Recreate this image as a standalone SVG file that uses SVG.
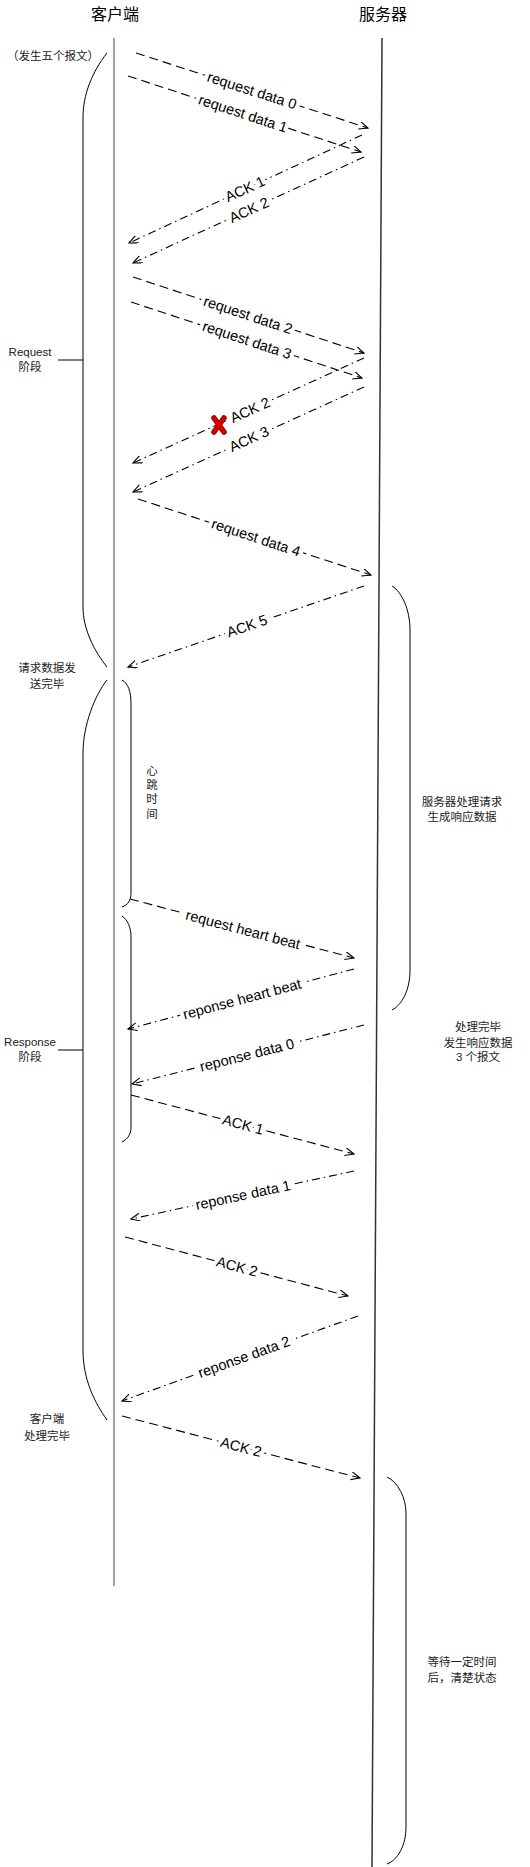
<svg xmlns="http://www.w3.org/2000/svg" width="530" height="1867" viewBox="0 0 530 1867">
<style>
.bg{fill:#fff}
.title{font-family:"Liberation Sans","Noto Sans CJK SC",sans-serif;font-size:16px;fill:#000;text-anchor:middle;dominant-baseline:central}
.note{font-family:"Liberation Sans","Noto Sans CJK SC",sans-serif;font-size:11.5px;fill:#222;text-anchor:middle;dominant-baseline:central}
.lbl{font-family:"Liberation Sans","Noto Sans CJK SC",sans-serif;font-size:14.5px;fill:#000;text-anchor:middle;dominant-baseline:central;stroke:#fff;stroke-width:8;stroke-linejoin:round;paint-order:stroke}
.brace{fill:none;stroke:#000;stroke-width:1}
.dash{fill:none;stroke:#000;stroke-width:1.1;stroke-dasharray:9,5;marker-end:url(#open)}
.dd{fill:none;stroke:#000;stroke-width:1.1;stroke-dasharray:8,4,1.5,4;marker-end:url(#open)}
</style>
<defs>
<marker id="open" markerUnits="userSpaceOnUse" markerWidth="12" markerHeight="12" refX="9" refY="4" orient="auto">
<path d="M0,0 L9,4 L0,8" fill="none" stroke="#000" stroke-width="1.1"/>
</marker>
</defs>
<rect class="bg" x="0" y="0" width="530" height="1867"/>

<g id="client">
<text class="title" x="115" y="14">客户端</text>
<line x1="114" y1="38" x2="114" y2="1586" stroke="#888" stroke-width="1.6"/>
</g>
<g id="server">
<text class="title" x="383" y="14">服务器</text>
<line x1="382" y1="38" x2="372" y2="1867" stroke="#333" stroke-width="1.5"/>
</g>

<g id="request-phase">
<text class="note" x="53" y="56">（发生五个报文）</text>
<path class="brace" d="M107,53 C92,72 83,95 83,117 L83,607 C83,630 95,652 107,667"/>
<line class="brace" x1="58" y1="360" x2="83" y2="360"/>
<text class="note" x="30" y="352">Request</text>
<text class="note" x="30" y="367">阶段</text>
<text class="note" x="47" y="668">请求数据发</text>
<text class="note" x="47" y="684">送完毕</text>
</g>

<g id="response-phase">
<path class="brace" d="M107,680 C95,695 83,725 83,753 L83,1350 C83,1380 95,1403 107,1420"/>
<line class="brace" x1="58" y1="1050" x2="83" y2="1050"/>
<text class="note" x="30" y="1042">Response</text>
<text class="note" x="30" y="1057">阶段</text>
<text class="note" x="47" y="1419">客户端</text>
<text class="note" x="47" y="1436">处理完毕</text>
</g>

<g id="heartbeat-time">
<path class="brace" d="M122,680 C128,683 131,692 131,703 L131,893 C131,900 128,905 122,907"/>
<path class="brace" d="M122,916 C128,920 131,928 131,937 L131,1127 C131,1134 128,1139 122,1142"/>
<text class="note" x="152" y="771">心</text>
<text class="note" x="152" y="785">跳</text>
<text class="note" x="152" y="799">时</text>
<text class="note" x="152" y="814">间</text>
</g>

<g id="server-processing">
<path class="brace" d="M392,586 C402,592 410,610 410,630 L410,970 C410,990 402,1005 392,1010"/>
<text class="note" x="462" y="802">服务器处理请求</text>
<text class="note" x="462" y="817">生成响应数据</text>
<text class="note" x="478" y="1027">处理完毕</text>
<text class="note" x="478" y="1043">发生响应数据</text>
<text class="note" x="478" y="1057">3 个报文</text>
</g>

<g id="server-wait">
<path class="brace" d="M387,1477 C398,1482 406,1498 406,1513 L406,1827 C406,1845 398,1860 387,1864"/>
<text class="note" x="462" y="1662">等待一定时间</text>
<text class="note" x="462" y="1678">后，清楚状态</text>
</g>

<g id="connectors">
<line class="dash" x1="136" y1="53" x2="368" y2="128"/>
<text class="lbl" transform="translate(252,90.5) rotate(17.9)">request data 0</text>
<line class="dash" x1="128" y1="76" x2="361" y2="152"/>
<text class="lbl" transform="translate(243,113.5) rotate(18.1)">request data 1</text>
<line class="dd" x1="362" y1="135" x2="129" y2="243"/>
<text class="lbl" transform="translate(245,189) rotate(-24.9)">ACK 1</text>
<line class="dd" x1="364" y1="157" x2="133" y2="263"/>
<text class="lbl" transform="translate(249,210) rotate(-24.5)">ACK 2</text>

<line class="dash" x1="133" y1="277" x2="364" y2="353"/>
<text class="lbl" transform="translate(248,315) rotate(18.2)">request data 2</text>
<line class="dash" x1="131" y1="302" x2="362" y2="378"/>
<text class="lbl" transform="translate(247,340) rotate(18.2)">request data 3</text>
<line class="dd" x1="364" y1="358" x2="133" y2="463"/>
<text class="lbl" transform="translate(250,410) rotate(-24.4)">ACK 2</text>
<line class="dd" x1="364" y1="387" x2="133" y2="492"/>
<text class="lbl" transform="translate(249,439) rotate(-24.4)">ACK 3</text>
<g id="lost-mark">
<path d="M214,418 L224,432 M224,418 L214,432" stroke="#8a0000" stroke-width="5.5" stroke-linecap="round" fill="none"/>
<path d="M214,418 L224,432 M224,418 L214,432" stroke="#e00000" stroke-width="3.5" stroke-linecap="round" fill="none"/>
</g>

<line class="dash" x1="138" y1="499" x2="371" y2="575"/>
<text class="lbl" transform="translate(256,537.5) rotate(18.1)">request data 4</text>
<line class="dd" x1="364" y1="586" x2="128" y2="667"/>
<text class="lbl" transform="translate(247,626) rotate(-18.9)">ACK 5</text>

<line class="dash" x1="130" y1="899" x2="354" y2="958"/>
<text class="lbl" transform="translate(243,929.5) rotate(14.8)">request heart beat</text>
<line class="dd" x1="354" y1="969" x2="128" y2="1029"/>
<text class="lbl" transform="translate(242,999) rotate(-14.9)">reponse heart beat</text>
<line class="dd" x1="364" y1="1025" x2="132" y2="1084"/>
<text class="lbl" transform="translate(247,1055) rotate(-14.3)">reponse data 0</text>
<line class="dash" x1="131" y1="1095" x2="354" y2="1154"/>
<text class="lbl" transform="translate(243,1124.5) rotate(14.8)">ACK 1</text>
<line class="dd" x1="354" y1="1171" x2="131" y2="1219"/>
<text class="lbl" transform="translate(243,1195) rotate(-12.1)">reponse data 1</text>
<line class="dash" x1="125" y1="1237" x2="348" y2="1296"/>
<text class="lbl" transform="translate(237,1266.5) rotate(14.8)">ACK 2</text>
<line class="dd" x1="358" y1="1316" x2="122" y2="1401"/>
<text class="lbl" transform="translate(244,1357) rotate(-19.8)">reponse data 2</text>
<line class="dash" x1="122" y1="1416" x2="360" y2="1478"/>
<text class="lbl" transform="translate(241,1447) rotate(14.6)">ACK 2</text>
</g>
</svg>
